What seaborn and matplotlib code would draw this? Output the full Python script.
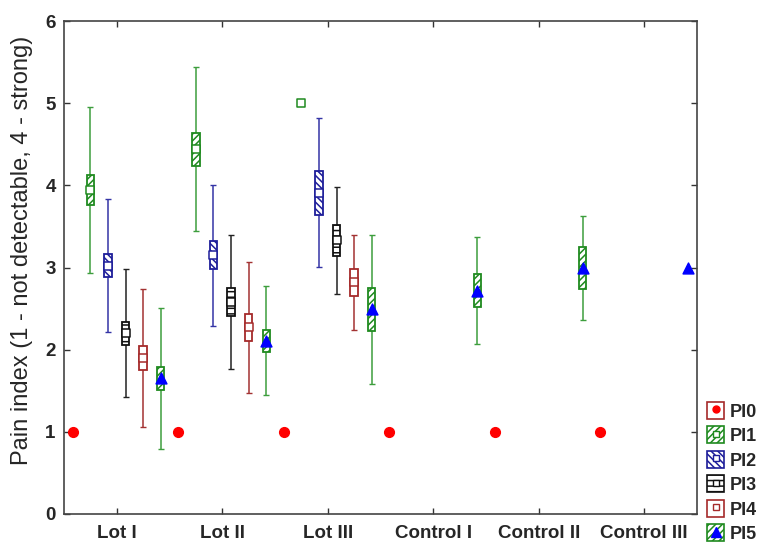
import numpy as np
import pandas as pd
import matplotlib
matplotlib.use("Agg")
import matplotlib.pyplot as plt
import seaborn as sns
from matplotlib.patches import Rectangle
from matplotlib.lines import Line2D
from matplotlib.legend_handler import HandlerTuple

nan = np.nan
groups = ["Lot I", "Lot II", "Lot III", "Control I", "Control II", "Control III"]
series = ["PI0", "PI1", "PI2", "PI3", "PI4", "PI5"]

pi0_mean = [1.0, 1.0, 1.0, 1.0, 1.0, 1.0]
pi0_se = [0, 0, 0, 0, 0, 0]
pi0_sd = [0, 0, 0, 0, 0, 0]

pi1_mean = [3.94, 4.44, 5.00, nan, nan, nan]
pi1_se = [0.18, 0.20, 0.0, nan, nan, nan]
pi1_sd = [1.01, 1.00, 0.0, nan, nan, nan]

pi2_mean = [3.02, 3.15, 3.91, nan, nan, nan]
pi2_se = [0.14, 0.17, 0.265, nan, nan, nan]
pi2_sd = [0.81, 0.86, 0.905, nan, nan, nan]

pi3_mean = [2.20, 2.58, 3.33, nan, nan, nan]
pi3_se = [0.14, 0.165, 0.185, nan, nan, nan]
pi3_sd = [0.78, 0.82, 0.65, nan, nan, nan]

pi4_mean = [1.90, 2.27, 2.82, nan, nan, nan]
pi4_se = [0.15, 0.165, 0.165, nan, nan, nan]
pi4_sd = [0.84, 0.80, 0.58, nan, nan, nan]

pi5_mean = [1.65, 2.11, 2.49, 2.72, 2.99, 3.00]
pi5_se = [0.145, 0.135, 0.26, 0.195, 0.255, 0.0]
pi5_sd = [0.86, 0.665, 0.91, 0.65, 0.635, 0.0]

y_ticks = [0, 1, 2, 3, 4, 5, 6]
y_label = "Pain index (1 - not detectable, 4 - strong)"

means = [pi0_mean, pi1_mean, pi2_mean, pi3_mean, pi4_mean, pi5_mean]
ses = [pi0_se, pi1_se, pi2_se, pi3_se, pi4_se, pi5_se]
sds = [pi0_sd, pi1_sd, pi2_sd, pi3_sd, pi4_sd, pi5_sd]

rows = []
for i, s in enumerate(series):
    for g, grp in enumerate(groups):
        rows.append(dict(series=s, si=i, group=grp, gi=g,
                         mean=means[i][g], se=ses[i][g], sd=sds[i][g]))
df = pd.DataFrame(rows).dropna(subset=["mean"])
df["x"] = df["gi"] + (df["si"] - 2.5) / 6.0

GREEN = "#1f8a1f"
WGREEN = "#3d9e3d"
BLUE = "#1e1e9a"
WBLUE = "#3434a6"
BLACK = "#111111"
DRED = "#a52a2a"

style = {
    "PI0": dict(edge=DRED, whisk=DRED, hatch=None, marker="o", mfc="#ff0000", mec="#ff0000", ms=48, lms=5),
    "PI1": dict(edge=GREEN, whisk=WGREEN, hatch="/////", marker="s", mfc="white", mec=GREEN, ms=26, lms=5),
    "PI2": dict(edge=BLUE, whisk=WBLUE, hatch="\\\\\\\\\\", marker="s", mfc="white", mec=BLUE, ms=26, lms=5),
    "PI3": dict(edge=BLACK, whisk="#222222", hatch="---", marker="s", mfc="white", mec=BLACK, ms=26, lms=5),
    "PI4": dict(edge=DRED, whisk="#a33232", hatch=None, marker="s", mfc="white", mec=DRED, ms=26, lms=5),
    "PI5": dict(edge=GREEN, whisk=WGREEN, hatch="/////", marker="^", mfc="#0000ff", mec="#0000ff", ms=60, lms=7),
}

sns.set_theme(style="white")
plt.rcParams["font.family"] = ["Liberation Sans", "DejaVu Sans"]
plt.rcParams["hatch.linewidth"] = 1.1

fig = plt.figure(figsize=(7.63, 5.54), dpi=100)
ax = fig.add_axes([64 / 763, 1 - 514 / 554, (697 - 64) / 763, (514 - 21) / 554])

bw = 0.07
for _, r in df.iterrows():
    st = style[r["series"]]
    if r["sd"] > 0:
        ax.errorbar(r["x"], r["mean"], yerr=r["sd"], fmt="none", ecolor=st["whisk"],
                    elinewidth=1.1, capsize=2, capthick=1, zorder=2)
        ax.add_patch(Rectangle((r["x"] - bw / 2, r["mean"] - r["se"]), bw, 2 * r["se"],
                               facecolor="white", edgecolor=st["edge"], hatch=st["hatch"],
                               lw=1.3, zorder=3))

for s in series:
    st = style[s]
    sub = df[df["series"] == s]
    sns.scatterplot(data=sub, x="x", y="mean", marker=st["marker"], s=st["ms"],
                    color=st["mfc"], edgecolor=st["mec"], linewidth=1.1,
                    ax=ax, zorder=5, legend=False)

ax.set_xlim(-0.5, 5.5)
ax.set_ylim(0, 6)
ax.set_xticks(range(len(groups)))
ax.set_xticklabels(groups, fontsize=13.5, fontweight="bold")
ax.set_yticks(y_ticks)
ax.set_yticklabels([str(t) for t in y_ticks], fontsize=13.5, fontweight="bold")
ax.tick_params(axis="both", direction="in", length=4, width=1, color="#333333",
               top=True, right=True, bottom=True, left=True)
ax.tick_params(axis="x", pad=8)
ax.tick_params(axis="y", pad=6)
ax.set_xlabel("")
ax.set_ylabel(y_label, fontsize=17)
ax.yaxis.set_label_coords(-0.049, 0.535)
for sp in ax.spines.values():
    sp.set_visible(True)
    sp.set_color("#444444")
    sp.set_linewidth(1.2)

handles = []
for s in series:
    st = style[s]
    patch = Rectangle((0, 0), 1, 1, facecolor="white", edgecolor=st["edge"],
                      hatch=st["hatch"], lw=1.2)
    mk = Line2D([], [], linestyle="none", marker=st["marker"], markersize=st["lms"],
                markerfacecolor=st["mfc"], markeredgecolor=st["mec"], markeredgewidth=1)
    handles.append((patch, mk))

fig.legend(handles, series, handler_map={tuple: HandlerTuple(ndivide=1)},
           loc="upper left", bbox_to_anchor=(707 / 763, 1 - 402 / 554),
           frameon=False, prop=dict(weight="bold", size=13),
           handlelength=0.95, handleheight=1.05, handletextpad=0.33,
           labelspacing=0.33, borderaxespad=0, borderpad=0)

fig.savefig("out.png", dpi=100)
